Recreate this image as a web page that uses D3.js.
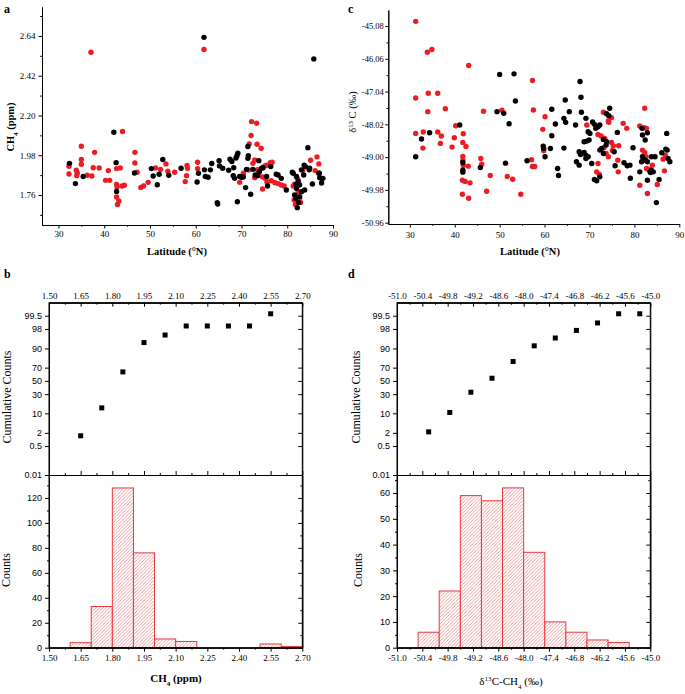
<!DOCTYPE html>
<html><head><meta charset="utf-8">
<script src="https://cdn.jsdelivr.net/npm/d3@7"></script>
<style>body{margin:0;background:#fff}</style>
</head><body>
<svg id="chart" width="685" height="694"></svg>
<script>
// ---------------- DATA ----------------
// Panel a: CH4 (ppm) vs latitude
const aRedLat = [37.1,61.8,44.0,35.0,37.9,46.7,32.3,32.3,33.9,34.1,34.0,35.0,35.0,36.3,37.3,37.6,38.9,40.9,40.3,41.2,42.7,43.5,42.7,42.8,42.7,43.2,42.9,43.9,44.4,46.7,47.2,48.0,48.6,49.6,51.2,52.3,53.5,53.9,55.4,57.7,58.0,58.1,58.2,60.4,60.4,69.6,70.4,71.5,72.5,72.9,73.5,73.7,72.9,73.6,72.2,73.3,72.1,71.7,73.4,74.3,75.1,75.5,76.3,76.7,74.6,75.3,75.6,74.6,76.5,77.3,78.0,78.7,79.3,81.3,81.6,82.2,82.4,82.7,82.9,81.5,81.8,81.9,83.4,85.1,86.5,86.9,86.1];
const aRedCH4 = [2.550,2.565,2.111,2.030,1.996,1.996,1.919,1.876,1.897,1.882,1.867,1.956,1.930,1.869,1.865,1.911,1.910,1.895,1.841,1.841,1.906,1.910,1.819,1.804,1.749,1.727,1.708,1.810,1.814,1.937,1.886,1.802,1.810,1.830,1.910,1.902,1.932,1.891,1.886,1.834,1.867,1.923,1.908,1.941,1.906,1.830,1.880,1.898,1.935,1.954,1.900,1.876,1.856,1.871,2.166,2.157,2.089,2.043,2.041,2.019,1.920,1.925,1.939,1.941,1.793,1.850,1.830,1.860,1.839,1.828,1.823,1.815,1.810,1.810,1.820,1.852,1.778,1.742,1.719,1.732,1.708,1.750,1.897,1.952,1.971,1.932,1.895];
const aBlkLat = [42.1,32.4,33.7,35.4,42.6,42.7,46.6,50.3,50.7,51.6,52.0,52.8,54.1,56.8,61.8,85.8,60.3,60.6,61.9,62.1,62.7,63.2,63.5,64.7,64.8,65.1,65.2,65.9,67.2,67.5,67.9,68.3,68.2,68.5,69.1,68.8,69.0,69.2,69.6,70.0,70.4,70.9,71.1,71.4,71.5,71.4,72.0,73.8,72.5,73.0,73.5,73.9,74.4,74.7,75.7,76.4,75.5,77.6,78.0,78.7,79.8,81.1,81.3,82.0,82.4,81.9,82.0,81.6,81.9,82.2,82.5,82.7,83.1,83.8,82.7,83.6,83.1,84.0,84.5,84.9,83.7,84.8,85.5,87.0,87.5,87.8,87.5,86.9,87.1];
const aBlkCH4 = [2.107,1.935,1.823,1.862,1.939,1.780,1.882,1.906,1.865,1.817,1.875,1.956,1.869,1.908,2.632,2.513,1.832,1.880,1.899,1.862,1.858,1.899,1.934,1.718,1.710,1.950,1.921,1.908,1.897,1.958,1.945,1.911,1.867,1.852,1.723,1.965,1.976,1.991,1.862,1.858,1.860,1.801,1.902,1.963,1.978,2.028,1.764,1.950,1.902,1.871,1.867,1.889,1.908,1.911,1.810,1.917,1.862,1.875,1.871,1.852,1.788,1.886,1.880,1.862,1.838,1.819,1.797,1.760,1.742,1.690,1.718,1.751,1.778,1.788,1.815,1.871,1.899,1.917,2.022,1.908,1.925,1.900,1.821,1.880,1.852,1.852,1.826,1.880,1.856];

// Panel c: d13C (permil) vs latitude
const cRedLat = [31.3,33.9,34.9,43.1,57.3,31.3,34.1,36.2,34.0,37.9,46.4,50.5,57.5,40.2,31.3,33.0,36.2,37.0,32.9,36.8,39.9,41.9,41.8,42.5,39.4,41.8,41.8,43.0,41.9,45.8,46.0,57.1,57.3,57.8,47.9,41.7,42.3,43.4,51.7,52.9,47.1,41.7,43.1,54.7,60.1,59.6,59.8,69.4,71.9,72.6,73.4,73.1,74.3,74.2,74.9,74.9,75.3,75.1,76.5,71.9,71.6,72.2,73.2,73.7,74.2,76.3,76.4,77.5,78.3,82.3,81.2,82.2,82.7,81.8,82.3,82.6,81.2,82.9,85.1,86.7,86.4,86.9,82.7,83.2,84.0];
const cRedD13 = [-44.94,-45.86,-45.78,-46.26,-46.71,-47.23,-47.09,-47.09,-47.64,-47.55,-47.63,-47.60,-47.59,-48.06,-48.29,-48.25,-48.25,-48.37,-48.73,-48.59,-48.42,-48.30,-48.56,-48.68,-48.70,-48.98,-49.10,-49.27,-49.25,-49.04,-49.21,-49.08,-49.28,-49.28,-49.55,-49.69,-49.73,-49.77,-49.58,-49.66,-50.02,-50.11,-50.23,-50.11,-47.79,-48.17,-48.81,-48.04,-48.32,-48.37,-48.44,-47.66,-47.96,-47.92,-47.82,-48.56,-48.66,-48.80,-48.66,-49.19,-49.44,-49.52,-48.72,-48.89,-48.99,-49.09,-49.44,-47.99,-48.14,-47.54,-48.07,-48.12,-48.14,-48.79,-48.86,-48.99,-49.84,-50.09,-49.82,-49.41,-49.06,-48.94,-49.34,-49.37,-49.24];
const cBlkLat = [50.0,53.2,49.4,50.9,53.5,52.1,41.1,34.4,32.6,31.3,41.8,41.8,41.8,45.7,51.3,56.1,61.6,62.4,61.6,59.7,59.8,60.1,61.3,62.9,63.1,64.3,64.6,64.3,64.7,65.5,66.9,67.9,68.1,68.2,69.2,70.7,71.1,71.4,71.9,72.3,69.7,70.1,68.8,69.4,69.9,73.1,73.8,73.7,73.8,74.3,74.5,67.7,68.0,68.8,69.2,69.2,67.1,67.7,69.7,70.5,72.3,72.7,73.1,71.1,71.6,72.3,75.5,75.7,76.2,77.7,78.4,79.0,79.1,79.7,81.7,82.9,81.8,82.4,81.2,81.6,81.8,82.4,82.9,83.5,83.8,84.2,84.6,83.8,82.9,84.9,85.5,87.2,87.0,87.3,87.5,87.9,86.1,83.6];
const cBlkD13 = [-46.53,-46.51,-47.64,-47.69,-47.32,-48.00,-48.04,-48.27,-48.46,-48.99,-49.16,-49.39,-49.45,-49.31,-49.18,-49.11,-47.57,-48.01,-48.36,-48.67,-48.74,-48.99,-48.74,-49.34,-49.55,-48.73,-47.29,-47.84,-47.96,-47.64,-48.04,-46.74,-47.21,-47.66,-47.84,-47.95,-48.02,-48.14,-48.09,-48.04,-48.24,-48.29,-48.54,-48.52,-48.49,-48.47,-48.54,-48.64,-47.70,-47.76,-47.54,-48.84,-48.92,-48.86,-48.94,-49.04,-49.14,-49.24,-48.99,-49.19,-48.79,-48.74,-48.89,-49.67,-49.71,-49.59,-48.84,-49.26,-48.26,-49.17,-49.26,-49.24,-49.63,-48.72,-48.14,-48.27,-48.34,-48.49,-49.44,-49.14,-48.99,-49.09,-49.14,-49.44,-49.39,-49.44,-48.99,-48.99,-49.69,-50.36,-49.67,-48.29,-48.76,-48.79,-49.04,-49.14,-48.87,-49.46];

// Panel b: CH4 histogram + cumulative
const bBinStart = [1.60,1.70,1.80,1.90,2.00,2.10,2.20,2.30,2.40,2.50,2.60];
const bCounts   = [4,33,128,76,7,5,0,0,0,3,1];
const bCumX     = [1.65,1.75,1.85,1.95,2.05,2.15,2.25,2.35,2.45,2.55];
const bCumPct   = [1.5,14.3,63.9,93.5,96.5,98.5,98.5,98.5,98.5,99.6];

// Panel d: d13C histogram + cumulative
const dBinStart = [-50.5,-50.0,-49.5,-49.0,-48.5,-48.0,-47.5,-47.0,-46.5,-46.0];
const dCounts   = [6,22,59,57,62,37,10,6,3,2];
const dCumX     = [-50.25,-49.75,-49.25,-48.75,-48.25,-47.75,-47.25,-46.75,-46.25,-45.75,-45.25];
const dCumPct   = [2.2,10.6,32.7,54.2,77.8,91.7,95.5,97.7,98.9,99.6,99.6];

// Tick labels
const latTicks   = [30,40,50,60,70,80,90];
const latMinor   = [35,45,55,65,75,85];
const aYTicks    = [1.76,1.98,2.20,2.42,2.64];
const aYMinor    = [1.65,1.87,2.09,2.31,2.53,2.75];
const cYTicks    = [-50.96,-49.98,-49.00,-48.02,-47.04,-46.06,-45.08];
const cYMinor    = [-50.47,-49.49,-48.51,-47.53,-46.55,-45.57];
const bXTicks    = [1.50,1.65,1.80,1.95,2.10,2.25,2.40,2.55,2.70];
const bXMinor    = [1.575,1.725,1.875,2.025,2.175,2.325,2.475,2.625];
const dXTicks    = [-51.0,-50.4,-49.8,-49.2,-48.6,-48.0,-47.4,-46.8,-46.2,-45.6,-45.0];
const dXMinor    = [-50.7,-50.1,-49.5,-48.9,-48.3,-47.7,-47.1,-46.5,-45.9,-45.3];
const probTicks  = [0.01,0.5,2,10,30,50,70,90,98,99.5];
const bCountTicks = [0,20,40,60,80,100,120];
const bCountMinor = [10,30,50,70,90,110,130];
const dCountTicks = [0,10,20,30,40,50,60];
const dCountMinor = [5,15,25,35,45,55,65];

// ---------------- HELPERS ----------------
const SERIF = "'Liberation Serif','Times New Roman',serif";
const SANS = "'Liberation Sans',Arial,sans-serif";
const RED = "#ec1c24";
const svg = d3.select("#chart");

function probit(p){
  const a=[-3.969683028665376e+01,2.209460984245205e+02,-2.759285104469687e+02,1.383577518672690e+02,-3.066479806614716e+01,2.506628277459239e+00];
  const b=[-5.447609879822406e+01,1.615858368580409e+02,-1.556989798598866e+02,6.680131188771972e+01,-1.328068155288572e+01];
  const c=[-7.784894002430293e-03,-3.223964580411365e-01,-2.400758277161838e+00,-2.549732539343734e+00,4.374664141464968e+00,2.938163982698783e+00];
  const d=[7.784695709041462e-03,3.224671290700398e-01,2.445134137142996e+00,3.754408661907416e+00];
  const pl=0.02425, ph=1-pl; let q,r;
  if(p<pl){q=Math.sqrt(-2*Math.log(p));return (((((c[0]*q+c[1])*q+c[2])*q+c[3])*q+c[4])*q+c[5])/((((d[0]*q+d[1])*q+d[2])*q+d[3])*q+1);}
  if(p<=ph){q=p-0.5;r=q*q;return (((((a[0]*r+a[1])*r+a[2])*r+a[3])*r+a[4])*r+a[5])*q/(((((b[0]*r+b[1])*r+b[2])*r+b[3])*r+b[4])*r+1);}
  q=Math.sqrt(-2*Math.log(1-p));return -(((((c[0]*q+c[1])*q+c[2])*q+c[3])*q+c[4])*q+c[5])/((((d[0]*q+d[1])*q+d[2])*q+d[3])*q+1);
}

function axis(gen, x, y, font, size){
  const g = svg.append("g").attr("transform",`translate(${x},${y})`).call(gen);
  g.attr("font-family",font).attr("font-size",size);
  g.selectAll(".domain").attr("stroke","#000").attr("stroke-width",1);
  g.selectAll(".tick line").attr("stroke","#000").attr("stroke-width",1);
  g.selectAll(".tick text").attr("fill","#000");
  return g;
}
function label(x,y,parts,opts){
  const t = svg.append("text").attr("x",x).attr("y",y)
    .attr("font-family",opts.font||SERIF).attr("font-size",opts.size||11)
    .attr("font-weight",opts.bold?"bold":"normal").attr("text-anchor",opts.anchor||"middle").attr("fill","#000");
  if(opts.rotate) t.attr("transform",`rotate(-90,${x},${y})`);
  parts.forEach(p=>{
    const s = t.append("tspan").text(p.t);
    if(p.sub) s.attr("baseline-shift","sub").attr("font-size",(opts.size||11)*0.65);
    if(p.sup) s.attr("baseline-shift","super").attr("font-size",(opts.size||11)*0.65);
  });
  return t;
}
const fmt = n => v => v.toFixed(n);

// hatch pattern
const defs = svg.append("defs");
const pat = defs.append("pattern").attr("id","hatch").attr("patternUnits","userSpaceOnUse").attr("width",3.4).attr("height",3.4);
pat.append("rect").attr("width",3.4).attr("height",3.4).attr("fill","#fff");
pat.append("path").attr("d","M-1,1 l2,-2 M0,3.4 l3.4,-3.4 M2.4,4.4 l2,-2").attr("stroke","#e4585c").attr("stroke-width",0.6);

// ---------------- PANEL a ----------------
const xA = d3.scaleLinear().domain([26.4,90]).range([42,333]);
const yA = d3.scaleLinear().domain([1.594,2.80]).range([225,7]);
axis(d3.axisLeft(yA).tickValues(aYMinor).tickFormat("").tickSizeInner(1.8).tickSizeOuter(0),42,0,SERIF,9);
axis(d3.axisLeft(yA).tickValues(aYTicks).tickFormat(fmt(2)).tickSizeInner(3.5).tickSizeOuter(0).tickPadding(3),42,0,SERIF,9);
axis(d3.axisBottom(xA).tickValues(latMinor).tickFormat("").tickSizeInner(1.8).tickSizeOuter(0),0,225,SERIF,9);
axis(d3.axisBottom(xA).tickValues(latTicks).tickSizeInner(3.5).tickSizeOuter(0).tickPadding(2),0,225,SERIF,9);
const gA = svg.append("g");
gA.selectAll(".r").data(d3.zip(aRedLat,aRedCH4)).join("circle")
  .attr("cx",d=>xA(d[0])).attr("cy",d=>yA(d[1])).attr("r",2.7).attr("fill",RED);
gA.selectAll(".k").data(d3.zip(aBlkLat,aBlkCH4)).join("circle")
  .attr("cx",d=>xA(d[0])).attr("cy",d=>yA(d[1])).attr("r",2.7).attr("fill","#000");
label(14,127,[{t:"CH"},{t:"4",sub:true},{t:" (ppm)"}],{bold:true,size:10.5,rotate:true});
label(177,255,[{t:"Latitude (°N)"}],{bold:true,size:10.5});
label(4,13,[{t:"a"}],{bold:true,size:12,anchor:"start"});

// ---------------- PANEL c ----------------
const xC = d3.scaleLinear().domain([25.2,90]).range([388.3,679.3]);
const yC = d3.scaleLinear().domain([-51.0,-44.6]).range([224,10]);
axis(d3.axisLeft(yC).tickValues(cYMinor).tickFormat("").tickSizeInner(1.8).tickSizeOuter(0),388.3,0,SERIF,9);
axis(d3.axisLeft(yC).tickValues(cYTicks).tickFormat(fmt(2)).tickSizeInner(3).tickSizeOuter(0).tickPadding(1.5),388.3,0,SERIF,8.5);
axis(d3.axisBottom(xC).tickValues(latMinor).tickFormat("").tickSizeInner(1.8).tickSizeOuter(0),0,224,SERIF,9);
axis(d3.axisBottom(xC).tickValues(latTicks).tickSizeInner(3.5).tickSizeOuter(0).tickPadding(4),0,224,SERIF,9);
const gC = svg.append("g");
gC.selectAll(".r").data(d3.zip(cRedLat,cRedD13)).join("circle")
  .attr("cx",d=>xC(d[0])).attr("cy",d=>yC(d[1])).attr("r",2.7).attr("fill",RED);
gC.selectAll(".k").data(d3.zip(cBlkLat,cBlkD13)).join("circle")
  .attr("cx",d=>xC(d[0])).attr("cy",d=>yC(d[1])).attr("r",2.7).attr("fill","#000");
label(356,112,[{t:"δ"},{t:"13",sup:true},{t:" C (‰)"}],{size:10.5,rotate:true});
label(530,255,[{t:"Latitude (°N)"}],{bold:true,size:10.5});
label(348,13,[{t:"c"}],{bold:true,size:12,anchor:"start"});

// ---------------- histogram panels ----------------
function histPanel(o){
  const {x0,x1,xDom,xTicks,xMinor,xFmt,counts,binStart,binW,cntDom,cntTicks,cntMinor,cumX,cumPct,letter,letterX} = o;
  const top=302.7, mid=475, bot=647.7;
  const x = d3.scaleLinear().domain(xDom).range([x0,x1]);
  const yP = d3.scaleLinear().domain([probit(0.0001),probit(0.999)]).range([mid,top]);
  const yN = d3.scaleLinear().domain(cntDom).range([bot,mid]);
  // bars
  svg.append("g").selectAll("rect").data(d3.zip(binStart,counts).filter(d=>d[1]>0)).join("rect")
    .attr("x",d=>x(d[0])).attr("width",d=>x(d[0]+binW)-x(d[0]))
    .attr("y",d=>yN(d[1])).attr("height",d=>yN(0)-yN(d[1]))
    .attr("fill","url(#hatch)").attr("stroke","#e53a3f").attr("stroke-width",1);
  // frame
  svg.append("rect").attr("x",x0).attr("y",top).attr("width",x1-x0).attr("height",bot-top)
    .attr("fill","none").attr("stroke","#000").attr("stroke-width",1);
  // top axis (labels, ticks inward)
  axis(d3.axisTop(x).tickValues(xMinor).tickFormat("").tickSizeInner(-2).tickSizeOuter(0),0,top,SERIF,9);
  axis(d3.axisTop(x).tickValues(xTicks).tickFormat(xFmt).tickSizeInner(-4).tickSizeOuter(0).tickPadding(4),0,top,SERIF,9);
  // divider axis (ticks up)
  axis(d3.axisBottom(x).tickValues(xMinor).tickFormat("").tickSizeInner(-2).tickSizeOuter(0),0,mid,SERIF,9);
  axis(d3.axisBottom(x).tickValues(xTicks).tickFormat("").tickSizeInner(-4).tickSizeOuter(0),0,mid,SERIF,9);
  // bottom axis
  axis(d3.axisBottom(x).tickValues(xMinor).tickFormat("").tickSizeInner(2).tickSizeOuter(0),0,bot,SERIF,9);
  axis(d3.axisBottom(x).tickValues(xTicks).tickFormat(xFmt).tickSizeInner(4).tickSizeOuter(0).tickPadding(3),0,bot,SERIF,9);
  // probability axis
  axis(d3.axisLeft(yP).tickValues(probTicks.map(p=>probit(p/100))).tickFormat((d,i)=>String(probTicks[i]))
    .tickSizeInner(4).tickSizeOuter(0).tickPadding(3),x0,0,SANS,9);
  axis(d3.axisRight(yP).tickValues(probTicks.map(p=>probit(p/100))).tickFormat("").tickSizeInner(-4).tickSizeOuter(0),x1,0,SANS,9);
  // count axis
  axis(d3.axisLeft(yN).tickValues(cntMinor).tickFormat("").tickSizeInner(2).tickSizeOuter(0),x0,0,SANS,9);
  axis(d3.axisLeft(yN).tickValues(cntTicks).tickSizeInner(4).tickSizeOuter(0).tickPadding(3),x0,0,SANS,9);
  axis(d3.axisRight(yN).tickValues(cntMinor).tickFormat("").tickSizeInner(-2).tickSizeOuter(0),x1,0,SANS,9);
  axis(d3.axisRight(yN).tickValues(cntTicks).tickFormat("").tickSizeInner(-4).tickSizeOuter(0),x1,0,SANS,9);
  // cumulative squares
  svg.append("g").selectAll("rect").data(d3.zip(cumX,cumPct)).join("rect")
    .attr("x",d=>x(d[0])-2.5).attr("y",d=>yP(probit(d[1]/100))-2.5).attr("width",5).attr("height",5).attr("fill","#000");
  label(letterX,278,[{t:letter}],{bold:true,size:12,anchor:"start"});
  return x;
}

histPanel({x0:49,x1:302.3,xDom:[1.5,2.7],xTicks:bXTicks,xMinor:bXMinor,xFmt:fmt(2),
  counts:bCounts,binStart:bBinStart,binW:0.1,cntDom:[0,138.4],cntTicks:bCountTicks,cntMinor:bCountMinor,
  cumX:bCumX,cumPct:bCumPct,letter:"b",letterX:4});
label(11,397,[{t:"Cumulative Counts"}],{size:12,rotate:true});
label(10,570,[{t:"Counts"}],{size:12,rotate:true});
label(176,682,[{t:"CH"},{t:"4",sub:true},{t:" (ppm)"}],{bold:true,size:11});

histPanel({x0:397,x1:650.3,xDom:[-51,-45],xTicks:dXTicks,xMinor:dXMinor,xFmt:fmt(1),
  counts:dCounts,binStart:dBinStart,binW:0.5,cntDom:[0,67],cntTicks:dCountTicks,cntMinor:dCountMinor,
  cumX:dCumX,cumPct:dCumPct,letter:"d",letterX:348});
label(360,397,[{t:"Cumulative Counts"}],{size:12,rotate:true});
label(362,570,[{t:"Counts"}],{size:12,rotate:true});
label(511,685,[{t:"δ"},{t:"13",sup:true},{t:"C-CH"},{t:"4",sub:true},{t:" (‰)"}],{size:11});
</script>
</body></html>
